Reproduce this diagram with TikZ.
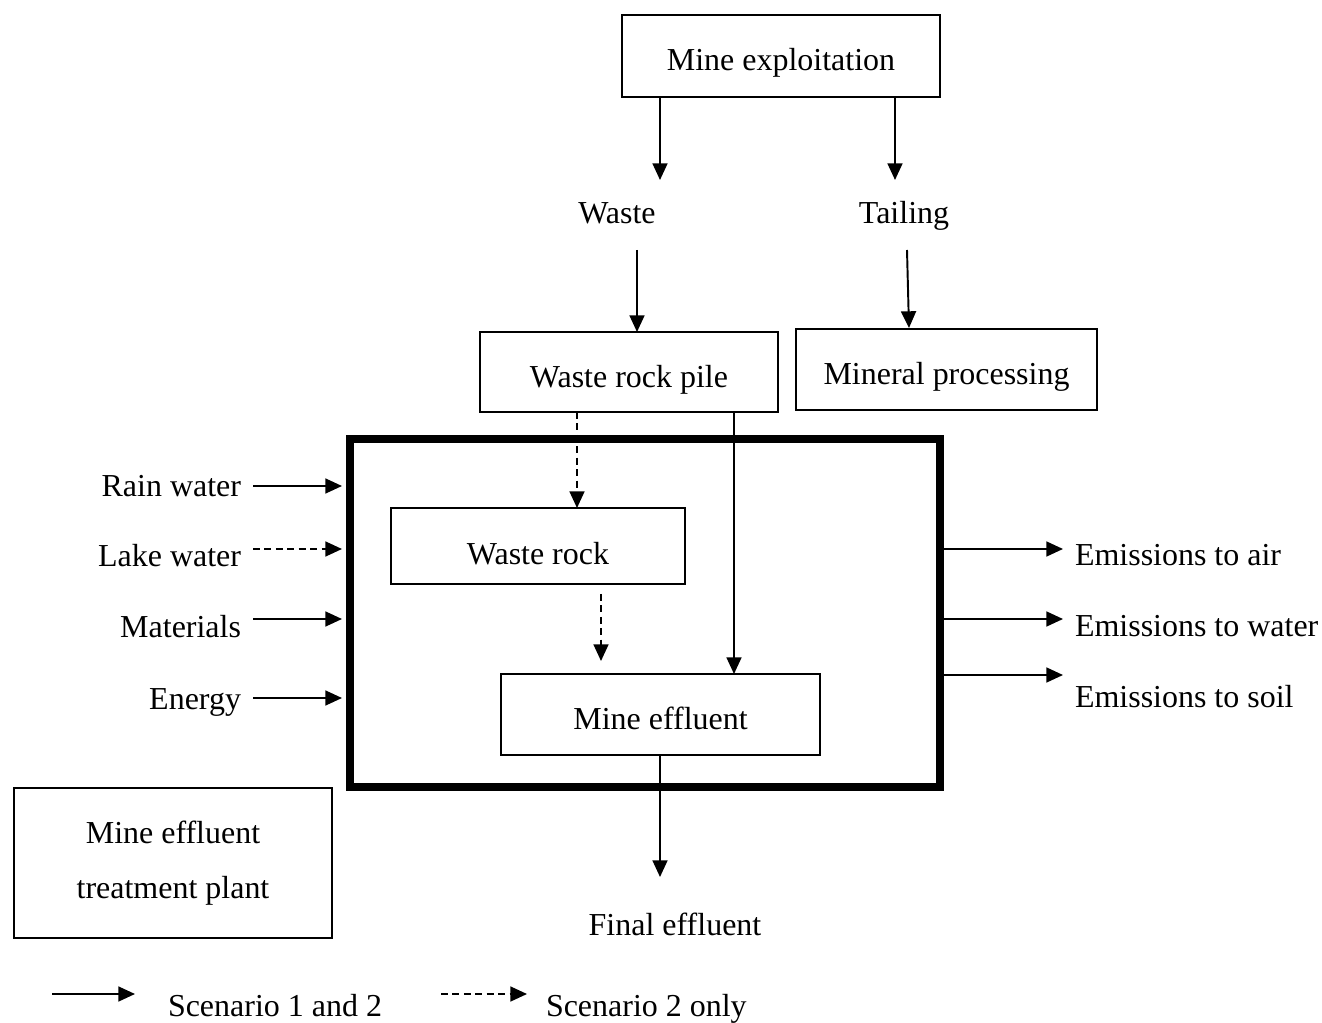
\documentclass[tikz,border=0pt]{standalone}
\usepackage{fontspec}
\setmainfont{Liberation Serif}
\usetikzlibrary{arrows.meta}
\begin{document}
\begin{tikzpicture}[x=0.02cm,y=-0.02cm,
  every node/.style={font=\fontsize{18.2}{22}\selectfont, inner sep=0pt, outer sep=0pt},
  box/.style={draw, line width=1.1pt, anchor=north west},
  lbl/.style={text height=14pt, text depth=2pt},
  arr/.style={line width=1.1pt, -{Triangle[width=8.5pt,length=9.5pt]}},
  darr/.style={arr, dash pattern=on 4pt off 2.5pt}]
\useasboundingbox (0,0) rectangle (1322,1023);

% boxes
\node[box, minimum width=318*0.02cm, minimum height=82*0.02cm] (me) at (622,15) {};
\node[lbl, yshift=-4*0.02cm] (met) at (me.center) {Mine exploitation};
\node[box, minimum width=298*0.02cm, minimum height=80*0.02cm] (wrp) at (480,332) {};
\node[lbl, yshift=-5*0.02cm] (wrpt) at (wrp.center) {Waste rock pile};
\node[box, minimum width=301*0.02cm, minimum height=81*0.02cm] (mp) at (796,329) {};
\node[lbl, yshift=-4*0.02cm] (mpt) at (mp.center) {Mineral processing};
\node[draw, line width=4.3pt, anchor=north west, minimum width=590*0.02cm, minimum height=348*0.02cm] (big) at (350,439) {};
\node[box, minimum width=294*0.02cm, minimum height=76*0.02cm] (wr) at (391,508) {};
\node[lbl, yshift=-8*0.02cm] (wrt) at (wr.center) {Waste rock};
\node[box, minimum width=319*0.02cm, minimum height=81*0.02cm] (meff) at (501,674) {};
\node[lbl, yshift=-4*0.02cm] (mefft) at (meff.center) {Mine effluent};
\node[box, minimum width=318*0.02cm, minimum height=150*0.02cm] (tp) at (14,788) {};
\node[lbl] (tp1) at (173,833) {Mine effluent};
\node[lbl] (tp2) at (173,888) {treatment plant};

% text labels
\node[lbl] (waste) at (617,213) {Waste};
\node[lbl] (tail) at (904,213) {Tailing};
\node[lbl] (fe) at (675,925) {Final effluent};

\node[lbl, anchor=east] (rain) at (241,486) {Rain water};
\node[lbl, anchor=east] (lake) at (241,556) {Lake water};
\node[lbl, anchor=east] (mat) at (241,627) {Materials};
\node[lbl, anchor=east] (en) at (241,699) {Energy};

\node[lbl, anchor=west] (air) at (1075,555) {Emissions to air};
\node[lbl, anchor=west] (water) at (1075,626) {Emissions to water};
\node[lbl, anchor=west] (soil) at (1075,697) {Emissions to soil};

% coordinates
\coordinate (a1) at (660,180);
\coordinate (a2) at (895,180);
\coordinate (b1) at (637,250);
\coordinate (b2) at (907,250);
\coordinate (b3) at (909,328);
\coordinate (c1) at (601,594);
\coordinate (c2) at (601,661);
\coordinate (d1) at (660,877);
\coordinate (rs) at (253,486);  \coordinate (re) at (342,486);
\coordinate (ls) at (253,549);  \coordinate (le) at (342,549);
\coordinate (ms) at (253,619);  \coordinate (mend) at (342,619);
\coordinate (es) at (253,698);  \coordinate (ee) at (342,698);
\coordinate (o1) at (1063,549);
\coordinate (o2) at (1063,619);
\coordinate (o3) at (1063,675);

% arrows top
\draw[arr] (me.south -| a1) -- (a1);
\draw[arr] (me.south -| a2) -- (a2);
\draw[arr] (b1) -- (wrp.north -| b1);
\draw[arr] (b2) -- (b3);
\draw[darr] (wrp.south -| 577,0) -- (wr.north -| 577,0);
\draw[arr] (wrp.south -| 734,0) -- (meff.north -| 734,0);
\draw[darr] (c1) -- (c2);
\draw[arr] (meff.south -| d1) -- (d1);

% left inputs
\draw[arr] (rs) -- (re);
\draw[darr] (ls) -- (le);
\draw[arr] (ms) -- (mend);
\draw[arr] (es) -- (ee);

% right outputs
\draw[arr] (big.east |- o1) -- (o1);
\draw[arr] (big.east |- o2) -- (o2);
\draw[arr] (big.east |- o3) -- (o3);

% legend
\coordinate (l1) at (52,994);
\coordinate (l2) at (135,994);
\coordinate (l3) at (441,994);
\coordinate (l4) at (527,994);
\draw[arr] (l1) -- (l2);
\draw[darr] (l3) -- (l4);
\node[lbl, anchor=west] (s12) at (168,1006) {Scenario 1 and 2};
\node[lbl, anchor=west] (s2) at (546,1006) {Scenario 2 only};
\end{tikzpicture}
\end{document}
